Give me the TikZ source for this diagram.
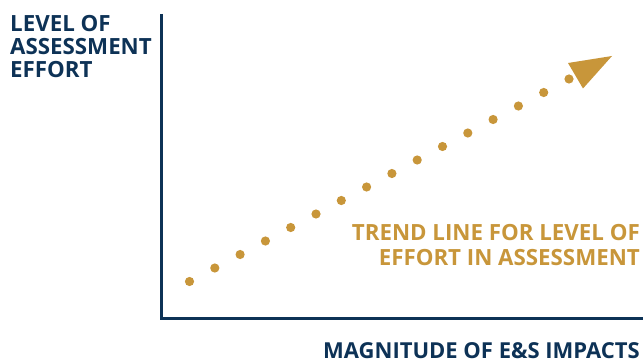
\documentclass[tikz,border=0pt]{standalone}
\usepackage{fontspec}
\setmainfont{Open Sans}
\usepackage{tikz}
\usetikzlibrary{calc}

\definecolor{navy}{HTML}{0D3256}
\definecolor{gold}{HTML}{C8963A}

\tikzset{
  axislabel/.style={inner sep=0pt, text=navy, font=\bfseries\fontsize{22.3}{23}\selectfont},
  trendlabel/.style={inner sep=0pt, text=gold, align=right, font=\bfseries\fontsize{22.3}{25}\selectfont},
  axis/.style={draw=navy, line width=3pt},
  dot/.style={fill=gold}
}

\begin{document}
\begin{tikzpicture}[x=1pt, y=-1pt]
        \useasboundingbox (0,0) rectangle (644,363);

        \coordinate (top) at (161.5, 14);
        \coordinate (origin) at (161.5, 318);
        \coordinate (right) at (643, 318);

        \draw[axis] (top) -- ([yshift=-1.5pt]origin);
        \draw[axis] ([xshift=-1.5pt]origin) -- (right);

        \node[axislabel, anchor=base west, align=left] (effort) at (10, 77.5) {LEVEL OF\\ASSESSMENT\\EFFORT};
        \node[axislabel, anchor=base east, font=\bfseries\fontsize{22}{23}\selectfont] (magnitude) at (640, 358) {MAGNITUDE OF E\&S IMPACTS};
        \node[trendlabel, anchor=base east] (trend) at (640, 265) {TREND LINE FOR LEVEL OF\\EFFORT IN ASSESSMENT};

        \coordinate (first) at (189.5, 281.5);
        \coordinate (last) at (569, 79);
        \foreach \i in {0,...,15}
          \fill[dot] ($(first)!\i/15!(last)$) circle (4.6);

        \coordinate (tip) at (612, 56);
        \fill[dot] (tip) -- (568, 63) -- (583, 88.5) -- cycle;
      \end{tikzpicture}
\end{document}
